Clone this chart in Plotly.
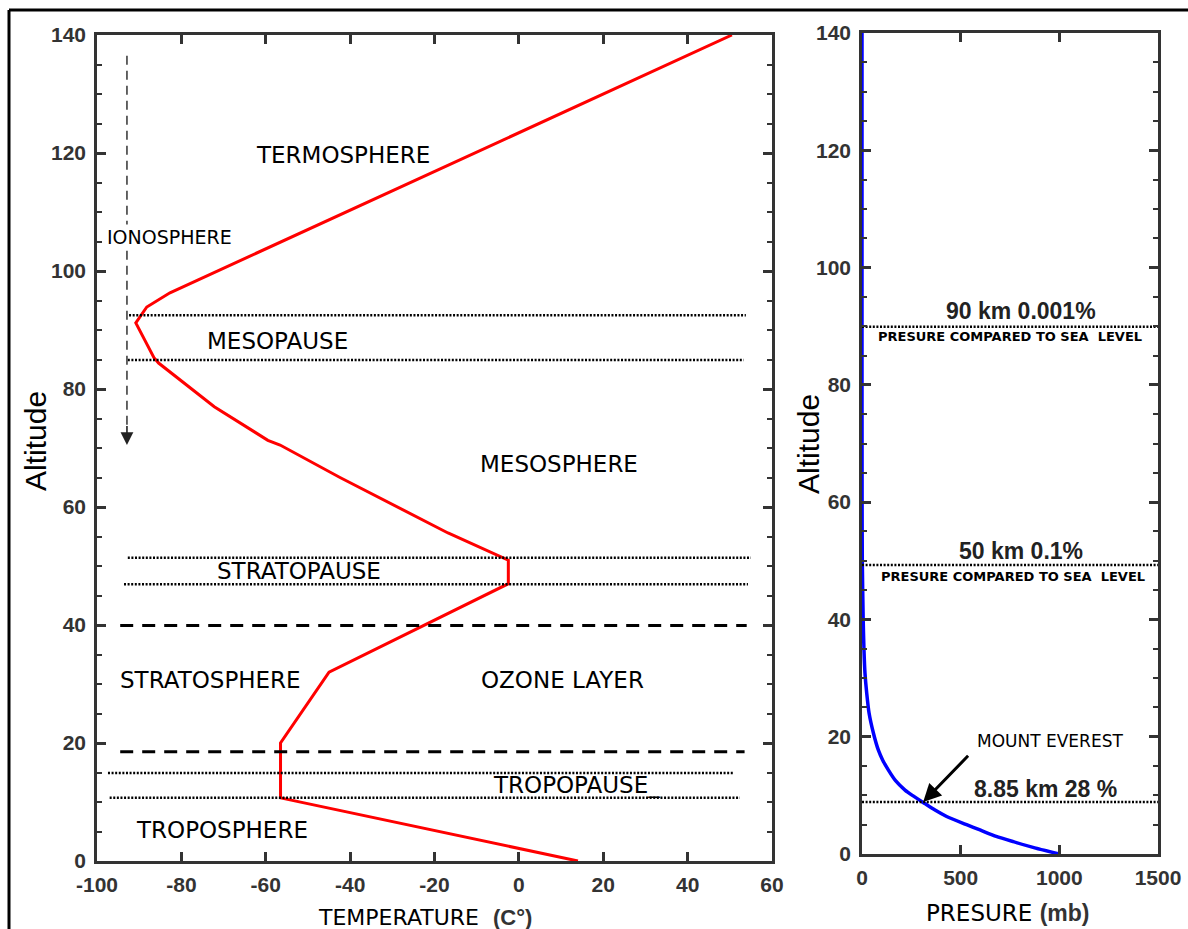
import plotly.graph_objects as go

# ---------------- data ----------------
# Temperature profile (left panel)
temp_c = [14, -56.5, -56.5, -45, -2.5, -2.5, -16.8, -30.8, -42.4, -56.6, -59.5, -72.2, -85.4, -86.5, -90.8, -88.2, -82.7, -76, 50.5]
temp_alt = [0, 10.7, 20, 32, 47, 51, 55.6, 60.8, 65, 70.5, 71.3, 77, 84.4, 85.3, 91.2, 93.9, 96.3, 98.5, 140]

# dotted boundary lines (left panel): altitude, start temp, end temp
dot_alt = [92.5, 84.9, 51.4, 46.9, 14.9, 10.7]
dot_x0 = [-92.4, -92.7, -92.7, -93.6, -97.4, -97.0]
dot_x1 = [53.8, 53.3, 55.0, 54.3, 50.7, 52.4]

# dashed boundary lines (left panel)
dash_alt = [39.9, 18.5]
dash_x0 = [-94.5, -94.5]
dash_x1 = [54.0, 53.5]

# ionosphere arrow
iono_x = [-92.9, -92.9]
iono_y = [136.5, 73]

# pressure profile (right panel)
pres_alt = [0, 1, 2.1, 3, 4.1, 5, 6.4, 7.5, 8.6, 10, 10.9, 12.5, 14.3, 16, 17.7, 20.6, 24, 27.4, 30.9, 34.8, 40, 50, 60, 90, 140]
pres_mb = [1000, 880, 767, 680, 598, 530, 429, 370, 319, 255, 218, 170, 134, 105, 83, 58, 36, 24, 15, 10, 6, 1.5, 0.5, 0.01, 0]

pres_ref_alt = [89.9, 49.3, 8.85]
pres_ref_x = [0, 1500]

temp_ticks = [-100, -80, -60, -40, -20, 0, 20, 40, 60]
temp_ticktext = ["-100", "-80", "-60", "-40", "-20", "0", "20", "40", "60"]
alt_ticks = [0, 20, 40, 60, 80, 100, 120, 140]
pres_ticks = [0, 500, 1000, 1500]

# ---------------- figure ----------------
W, H = 1188, 929
fig = go.Figure()

fig.add_trace(go.Scatter(x=temp_c, y=temp_alt, mode="lines",
                         line=dict(color="#ff0000", width=3), xaxis="x", yaxis="y"))
for a, x0, x1 in zip(dot_alt, dot_x0, dot_x1):
    fig.add_trace(go.Scatter(x=[x0, x1], y=[a, a], mode="lines",
                             line=dict(color="black", width=2.5, dash="2px,1.6px"), xaxis="x", yaxis="y"))
for a, x0, x1 in zip(dash_alt, dash_x0, dash_x1):
    fig.add_trace(go.Scatter(x=[x0, x1], y=[a, a], mode="lines",
                             line=dict(color="black", width=3, dash="13px,9px"), xaxis="x", yaxis="y"))
fig.add_trace(go.Scatter(x=iono_x, y=iono_y, mode="lines",
                         line=dict(color="#333", width=1.5, dash="9px,6px"), xaxis="x", yaxis="y"))

fig.add_trace(go.Scatter(x=pres_mb, y=pres_alt, mode="lines", line_shape="spline",
                         line=dict(color="#0000ff", width=3.5, smoothing=0.6), xaxis="x2", yaxis="y2"))
for a in pres_ref_alt:
    fig.add_trace(go.Scatter(x=pres_ref_x, y=[a, a], mode="lines",
                             line=dict(color="black", width=2.5, dash="2px,1.6px"), xaxis="x2", yaxis="y2"))

tickfont = dict(family="Arial, Liberation Sans", size=21, color="#333", weight="bold")
ax_common = dict(showline=True, linecolor="#333", linewidth=2.5, mirror="ticks",
                 ticks="inside", ticklen=9, tickwidth=2.5, tickcolor="#333", automargin=False,
                 showgrid=False, zeroline=False, tickfont=tickfont, fixedrange=True)

fig.update_layout(
    width=W, height=H,
    margin=dict(l=0, r=0, t=0, b=0, autoexpand=False),
    paper_bgcolor="white", plot_bgcolor="white",
    showlegend=False,
    xaxis=dict(domain=[97 / W, 772 / W], range=[-100, 60], tickvals=temp_ticks, ticktext=temp_ticktext,
               anchor="y", ticklabelstandoff=3, **ax_common),
    yaxis=dict(domain=[68 / H, 894 / H], range=[0, 140], tickvals=alt_ticks, anchor="x",
               ticklabelstandoff=4,
               minor=dict(dtick=5, ticks="inside", ticklen=5, tickwidth=2, tickcolor="#333"),
               **ax_common),
    xaxis2=dict(domain=[862 / W, 1158 / W], range=[0, 1500], tickvals=pres_ticks, anchor="y2",
                ticklabelstandoff=3, **ax_common),
    yaxis2=dict(domain=[75 / H, 896 / H], range=[0, 140], tickvals=alt_ticks, anchor="x2",
                ticklabelstandoff=4,
                minor=dict(dtick=5, ticks="inside", ticklen=5, tickwidth=2, tickcolor="#333"),
                **ax_common),
)

lab = dict(family="DejaVu Sans", size=23, color="black")
labels = [
    ("TERMOSPHERE", -41.7, 119.7),
    ("MESOPAUSE", -57.3, 88.1),
    ("MESOSPHERE", 9.5, 67.3),
    ("STRATOPAUSE", -52.1, 49.2),
    ("STRATOSPHERE", -73.0, 30.7),
    ("OZONE LAYER", 10.4, 30.7),
    ("TROPOPAUSE_", 13.7, 12.9),
    ("TROPOSPHERE", -70.4, 5.3),
]
for t, x, y in labels:
    fig.add_annotation(text=t, x=x, y=y, xref="x", yref="y", showarrow=False, font=lab,
                       xanchor="center", yanchor="middle")

fig.add_annotation(text="IONOSPHERE", x=-82.8, y=105.8, xref="x", yref="y", showarrow=False,
                   xanchor="center", yanchor="middle",
                   font=dict(family="DejaVu Sans", size=19, color="black"), bgcolor="white")
fig.add_annotation(text="", x=-92.9, y=70.5, ax=-92.9, ay=74, xref="x", yref="y", axref="x", ayref="y",
                   showarrow=True, arrowhead=2, arrowsize=1.6, arrowwidth=1.6, arrowcolor="#222")

# right panel labels
big = dict(family="Arial, Liberation Sans", size=23, color="#222", weight="bold")
small = dict(family="DejaVu Sans", size=13, color="black", weight="bold")
right_labels = [
    ("90 km 0.001%", 805, 92.6, big),
    ("PRESURE COMPARED TO SEA  LEVEL", 750, 88.2, small),
    ("50 km 0.1%", 805, 51.7, big),
    ("PRESURE COMPARED TO SEA  LEVEL", 765, 47.4, small),
    ("8.85 km 28 %", 930, 11.1, big),
    ("MOUNT EVEREST", 955, 19.2, dict(family="DejaVu Sans", size=17, color="black")),
]
for t, x, y, f in right_labels:
    fig.add_annotation(text=t, x=x, y=y, xref="x2", yref="y2", showarrow=False, font=f,
                       xanchor="center", yanchor="middle")
fig.add_annotation(text="", x=310, y=8.85, ax=545, ay=17.0, xref="x2", yref="y2", axref="x2", ayref="y2",
                   showarrow=True, arrowhead=2, arrowsize=1.2, arrowwidth=3, arrowcolor="black")

# axis titles
fig.add_annotation(text="Altitude", x=35 / W, y=1 - 441 / H, xref="paper", yref="paper", showarrow=False,
                   xanchor="center", yanchor="middle",
                   textangle=-90, font=dict(family="Arial, Liberation Sans", size=30, color="black"))
fig.add_annotation(text="Altitude", x=808 / W, y=1 - 444 / H, xref="paper", yref="paper", showarrow=False,
                   xanchor="center", yanchor="middle",
                   textangle=-90, font=dict(family="Arial, Liberation Sans", size=30, color="black"))
fig.add_annotation(text="TEMPERATURE  <span style='font-family:Arial, Liberation Sans;font-weight:bold;color:#333'>(C°)</span>",
                   x=425 / W, y=1 - 917 / H, xref="paper", yref="paper", showarrow=False,
                   xanchor="center", yanchor="middle",
                   font=dict(family="DejaVu Sans", size=22, color="black"))
fig.add_annotation(text="PRESURE <span style='font-family:Arial, Liberation Sans;font-weight:bold;color:#333'>(mb)</span>",
                   x=1007 / W, y=1 - 913 / H, xref="paper", yref="paper", showarrow=False,
                   xanchor="center", yanchor="middle",
                   font=dict(family="DejaVu Sans", size=23, color="black"))

# outer frame
fig.add_shape(type="line", xref="paper", yref="paper", x0=9 / W, x1=1.0, y0=1 - 10 / H, y1=1 - 10 / H,
              line=dict(color="black", width=3))
fig.add_shape(type="line", xref="paper", yref="paper", x0=9 / W, x1=9 / W, y0=0, y1=1 - 10 / H,
              line=dict(color="black", width=3))

fig.write_html("out.html")
